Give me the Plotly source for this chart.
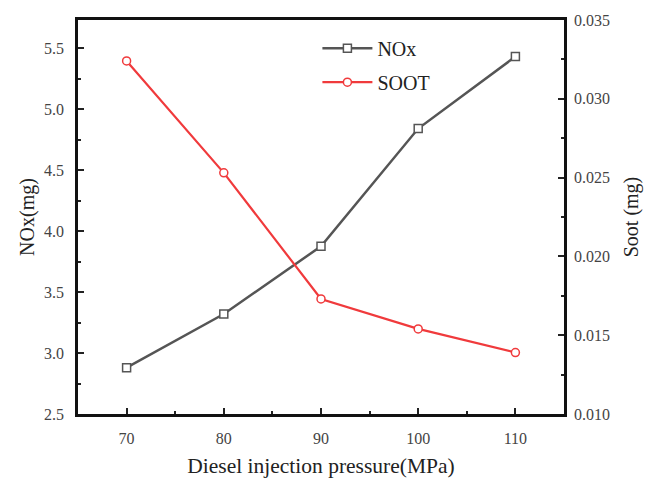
import plotly.graph_objects as go

pressure = [70, 80, 90, 100, 110]
nox = [2.88, 3.32, 3.875, 4.84, 5.43]
soot = [0.0324, 0.0253, 0.0173, 0.0154, 0.0139]

FONT = "Liberation Serif"
fig = go.Figure()
fig.add_trace(go.Scatter(
    x=pressure, y=nox, name="NOx", mode="lines+markers", legendgroup="a",
    line=dict(color="#555555", width=2.5),
    marker=dict(symbol="square", size=8, color="white", line=dict(width=1.5, color="#555555")),
))
fig.add_trace(go.Scatter(
    x=pressure, y=soot, name="SOOT", mode="lines+markers", yaxis="y2", legendgroup="b",
    line=dict(color="#f03a3c", width=2.2),
    marker=dict(symbol="circle", size=8, color="white", line=dict(width=1.5, color="#f03a3c")),
))

tickfont = dict(family=FONT, size=16, color="#444444")
titlefont = dict(family=FONT, size=20, color="#222222")
fig.update_layout(
    width=646, height=482,
    margin=dict(l=77.5, r=82.3, t=19.5, b=68.3, autoexpand=False),
    paper_bgcolor="white", plot_bgcolor="white",
    font=dict(family=FONT, color="#222222"),
    showlegend=True,
    legend=dict(x=0.4926, y=0.978, xanchor="left", yanchor="top",
                font=dict(family=FONT, size=20, color="#222222"),
                bgcolor="rgba(0,0,0,0)", tracegroupgap=5, itemwidth=50),
    xaxis=dict(
        range=[65, 115], tickvals=pressure, ticks="inside", ticklen=6, tickwidth=2,
        tickcolor="#222222", ticklabelstandoff=8, automargin=False,
        minor=dict(ticks="inside", ticklen=3, tickwidth=2, dtick=5, tick0=65, tickcolor="#222222"),
        showline=True, linecolor="#111111", linewidth=2.5, mirror=True,
        showgrid=False, zeroline=False, tickfont=tickfont,
        title=dict(text="Diesel injection pressure(MPa)", font=dict(family=FONT, size=21.5, color="#222222"), standoff=12),
    ),
    yaxis=dict(
        range=[2.5, 5.73], tickvals=[2.5, 3.0, 3.5, 4.0, 4.5, 5.0, 5.5],
        ticktext=["2.5", "3.0", "3.5", "4.0", "4.5", "5.0", "5.5"],
        ticks="inside", ticklen=6, tickwidth=2, tickcolor="#222222", ticklabelstandoff=8,
        automargin=False,
        minor=dict(ticks="inside", ticklen=3, tickwidth=2, dtick=0.25, tick0=2.5, tickcolor="#222222"),
        showline=True, linecolor="#111111", linewidth=2.5,
        showgrid=False, zeroline=False, tickfont=tickfont,
        title=dict(text="NOx(mg)", font=titlefont, standoff=5),
    ),
    yaxis2=dict(
        range=[0.010, 0.035], overlaying="y", side="right",
        tickvals=[0.010, 0.015, 0.020, 0.025, 0.030, 0.035],
        ticktext=["0.010", "0.015", "0.020", "0.025", "0.030", "0.035"],
        ticks="inside", ticklen=6, tickwidth=2, tickcolor="#222222", ticklabelstandoff=4,
        automargin=False,
        minor=dict(ticks="inside", ticklen=3, tickwidth=2, dtick=0.0025, tick0=0.010, tickcolor="#222222"),
        showline=True, linecolor="#111111", linewidth=2.5,
        showgrid=False, zeroline=False, tickfont=tickfont,
        title=dict(text="Soot (mg)", font=titlefont, standoff=16),
    ),
)
fig.write_html("out.html")
